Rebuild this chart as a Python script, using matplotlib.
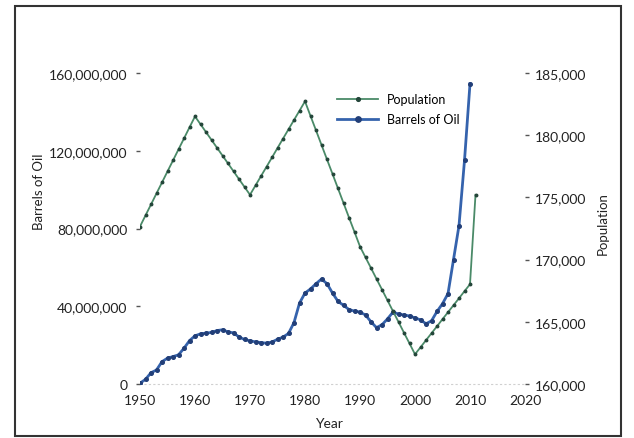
"""Barrels of oil vs. population, 1950-2011 (dual axis line chart)."""

import matplotlib
matplotlib.use('Agg')
import matplotlib.pyplot as plt
from matplotlib.patches import Rectangle
from matplotlib.ticker import FuncFormatter

plt.rcParams['font.family'] = ['Lato', 'DejaVu Sans']

# =============================================================================
# Data
# =============================================================================

OIL_YEARS = list(range(1950, 2011))
OIL_MILLIONS = [
    0.4, 2.4, 5.8, 7.2, 11.5, 13.3, 14.1, 15.0, 18.4, 22.3,      # 1950s
    24.8, 25.8, 26.2, 26.5, 27.5, 27.9, 26.8, 26.3, 24.2, 22.9,  # 1960s
    22.2, 21.7, 21.3, 21.0, 21.6, 23.0, 24.1, 26.0, 31.6, 41.6,  # 1970s
    46.8, 48.9, 51.6, 54.0, 51.6, 46.8, 42.5, 40.5, 38.3, 37.5,  # 1980s
    37.0, 35.5, 32.0, 29.0, 30.5, 33.5, 37.0, 36.0, 35.5, 35.0,  # 1990s
    34.0, 33.0, 31.0, 32.5, 37.3, 41.3, 46.5, 64.0, 81.5, 115.0, # 2000s
    154.5,                                                       # 2010
]
OIL_BARRELS = [v * 1e6 for v in OIL_MILLIONS]

POP_YEARS = list(range(1950, 2012))
POPULATION = [
    172660, 173550, 174430, 175320, 176200, 177090, 177970, 178860, 179740, 180630,
    181510, 180880, 180250, 179620, 178990, 178360, 177730, 177100, 176470, 175840,
    175210, 175960, 176710, 177460, 178210, 178970, 179720, 180470, 181220, 181970,
    182720, 181550, 180390, 179220, 178050, 176890, 175720, 174550, 173380, 172220,
    171050, 170180, 169320, 168450, 167590, 166720, 165850, 164990, 164120, 163260,
    162390, 162950, 163520, 164080, 164640, 165210, 165770, 166330, 166890, 167460,
    168020, 175210,
]

OIL_TICKS = [0, 40e6, 80e6, 120e6, 160e6]
POP_TICKS = [160000, 165000, 170000, 175000, 180000, 185000]
YEAR_TICKS = [1950, 1960, 1970, 1980, 1990, 2000, 2010, 2020]

GREEN = '#4a8a68'
GREEN_DARK = '#24463a'
BLUE = '#3563ad'
BLUE_DARK = '#223f78'
TICK_GREY = '#555555'

# =============================================================================
# Plot
# =============================================================================

W, H = 634, 439
fig = plt.figure(figsize=(W / 100, H / 100), dpi=100)

# axes box in pixels: x 140..525, y 74..385 (from top)
ax = fig.add_axes([140 / W, 1 - 385 / H, 385 / W, 311 / H])
ax2 = ax.twinx()

l_oil, = ax.plot(OIL_YEARS, OIL_BARRELS, color=BLUE, lw=2.0,
                 marker='o', ms=2.6, mfc=BLUE_DARK, mec=BLUE_DARK,
                 label='Barrels of Oil', zorder=3)
l_pop, = ax2.plot(POP_YEARS, POPULATION, color=GREEN, lw=1.3,
                  marker='o', ms=1.8, mfc=GREEN_DARK, mec=GREEN_DARK,
                  label='Population', zorder=3)

ax.set_xlim(1950, 2020)
ax.set_ylim(0, 160e6)
ax2.set_ylim(160000, 185000)

ax.set_xticks(YEAR_TICKS)
ax.set_yticks(OIL_TICKS)
ax2.set_yticks(POP_TICKS)
ax.yaxis.set_major_formatter(FuncFormatter(lambda v, p: f'{v:,.0f}'))
ax2.yaxis.set_major_formatter(FuncFormatter(lambda v, p: f'{v:,.0f}'))

for a in (ax, ax2):
    for s in a.spines.values():
        s.set_visible(False)
ax.spines['bottom'].set_visible(True)
ax.spines['bottom'].set_color('#d0d0d0')
ax.spines['bottom'].set_linestyle((0, (1, 3)))

ax.tick_params(axis='x', length=0, pad=7, labelsize=10, colors='#222222')
ax.tick_params(axis='y', length=3, width=1, color=TICK_GREY, pad=6,
               labelsize=10, labelcolor='#222222')
ax2.tick_params(axis='y', length=3, width=1, color=TICK_GREY, pad=4,
                labelsize=10, labelcolor='#222222')

ax.set_xlabel('Year', fontsize=10, color='#222222')
ax.xaxis.set_label_coords(0.49, -0.105)
ax.set_ylabel('Barrels of Oil', fontsize=9.5, color='#222222')
ax.yaxis.set_label_coords(-0.247, 0.62)
ax2.set_ylabel('Population', fontsize=9.5, color='#222222')
ax2.yaxis.set_label_coords(1.187, 0.52)

fig.legend(handles=[l_pop, l_oil], loc='upper left',
           bbox_to_anchor=(337 / W, 1 - 94 / H), frameon=False,
           fontsize=9, handlelength=3.3, handletextpad=0.7,
           labelspacing=0.65, borderpad=0, borderaxespad=0,
           markerscale=1.5)

# dark outer frame like the scanned original
fig.patches.append(Rectangle((15 / W, 1 - 437 / H), 606 / W, 430 / H,
                             transform=fig.transFigure, fill=False,
                             edgecolor='#333333', lw=1.5))

fig.savefig('out.png', dpi=100)
